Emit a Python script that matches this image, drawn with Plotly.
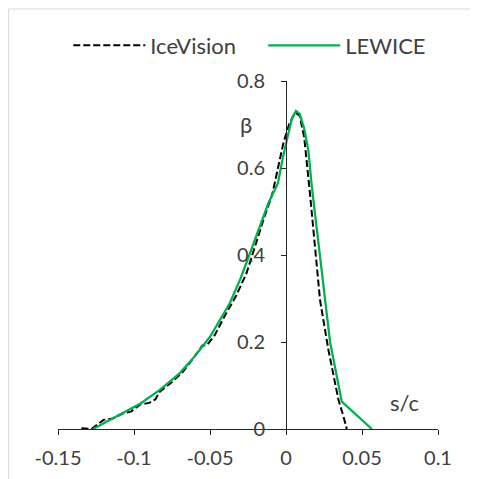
import plotly.graph_objects as go

# IceVision (dashed black)
ice_x = [-0.1346, -0.128, -0.120, -0.114, -0.108, -0.102, -0.096, -0.090, -0.086, -0.083,
         -0.075, -0.068, -0.062, -0.055, -0.052, -0.047, -0.040, -0.033, -0.026, -0.020,
         -0.014, -0.009, -0.005, -0.0018, 0.002, 0.006, 0.009, 0.012, 0.0158, 0.019,
         0.0224, 0.0279, 0.0345, 0.0378, 0.040]
ice_y = [0.002, 0.0, 0.021, 0.024, 0.035, 0.040, 0.056, 0.060, 0.068, 0.086,
         0.108, 0.131, 0.158, 0.192, 0.193, 0.215, 0.262, 0.305, 0.358, 0.425,
         0.49, 0.54, 0.603, 0.656, 0.70, 0.728, 0.72, 0.67, 0.54, 0.42,
         0.296, 0.182, 0.067, 0.029, 0.0]

# LEWICE (solid green)
lew_x = [-0.127, -0.115, -0.105, -0.096, -0.083, -0.070, -0.061, -0.050, -0.037, -0.030,
         -0.0237, -0.018, -0.0115, -0.0053, -0.002, 0.0015, 0.004, 0.0066, 0.009, 0.012,
         0.0147, 0.0169, 0.029, 0.0367, 0.0565]
lew_y = [0.0, 0.022, 0.040, 0.058, 0.090, 0.128, 0.163, 0.212, 0.289, 0.345,
         0.404, 0.457, 0.52, 0.565, 0.625, 0.679, 0.715, 0.731, 0.725, 0.69,
         0.641, 0.560, 0.200, 0.063, 0.0]

x_ticks = [-0.15, -0.1, -0.05, 0, 0.05, 0.1]
x_tick_labels = ["-0.15", "-0.1", "-0.05", "0", "0.05", "0.1"]
y_ticks = [0, 0.2, 0.4, 0.6, 0.8]
y_tick_labels = ["0", "0.2", "0.4", "0.6", "0.8"]

FONT = "Lato"
TXT = "#404040"
AX = "#262626"

fig = go.Figure()
fig.add_trace(go.Scatter(x=ice_x, y=ice_y, mode="lines", name="IceVision",
                         legend="legend",
                         line=dict(color="#000000", width=2, dash="7px,3px")))
fig.add_trace(go.Scatter(x=lew_x, y=lew_y, mode="lines", name="LEWICE",
                         legend="legend2",
                         line=dict(color="#00B050", width=2.25)))

leg_common = dict(orientation="h", xanchor="left", y=1.102, yanchor="middle",
                  font=dict(family=FONT, size=22, color=TXT),
                  bgcolor="rgba(0,0,0,0)", itemwidth=72)

fig.update_layout(
    width=470, height=471,
    margin=dict(l=50.3, r=40.3, t=72.7, b=49.7, autoexpand=False),
    paper_bgcolor="white", plot_bgcolor="white",
    font=dict(family=FONT, size=20, color=TXT),
    showlegend=True,
    legend=dict(x=0.027, **leg_common),
    legend2=dict(x=0.54, **leg_common),
    xaxis=dict(range=[-0.15, 0.1], tickvals=x_ticks, ticktext=x_tick_labels,
               showgrid=False, zeroline=False, showline=True, linecolor=AX, linewidth=1,
               ticks="outside", ticklen=5, tickcolor=AX, tickwidth=1,
               ticklabelstandoff=6, automargin=False,
               tickfont=dict(family=FONT, size=20, color=TXT), fixedrange=True),
    yaxis=dict(range=[0, 0.8], tickvals=y_ticks, ticktext=y_tick_labels,
               anchor="free", position=0.6,
               showgrid=False, zeroline=False, showline=True, linecolor=AX, linewidth=1,
               ticks="outside", ticklen=5, tickcolor=AX, tickwidth=1,
               ticklabelstandoff=12, automargin=False,
               tickfont=dict(family=FONT, size=20, color=TXT), fixedrange=True),
    annotations=[
        dict(x=-0.026, y=0.70, xref="x", yref="y", text="β", showarrow=False,
             font=dict(family=FONT, size=22, color=TXT)),
        dict(x=0.078, y=0.062, xref="x", yref="y", text="s/c", showarrow=False,
             font=dict(family=FONT, size=22, color=TXT)),
    ],
    shapes=[
        dict(type="rect", xref="paper", yref="paper", x0=-0.13, x1=1.5, y0=-0.5, y1=1.207,
             line=dict(color="#D9D9D9", width=1), fillcolor="rgba(0,0,0,0)", layer="below"),
    ],
)

fig.write_html("out.html")
